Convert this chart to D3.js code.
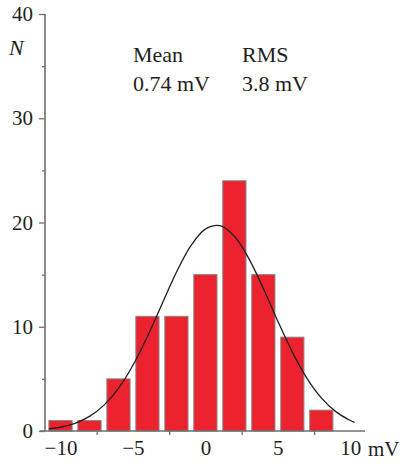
<!DOCTYPE html>
<html><head><meta charset="utf-8">
<script src="https://cdn.jsdelivr.net/npm/d3@7"></script>
<style>
html,body{margin:0;padding:0;background:#fff;}
svg text{font-family:"Liberation Serif","Times New Roman",serif;fill:#231f20;}
</style></head>
<body><svg id="c" width="403" height="464"></svg>
<script>
// data
const binCenters = [-10, -8, -6, -4, -2, 0, 2, 4, 6, 8];
const counts = [1, 1, 5, 11, 11, 15, 24, 15, 9, 2];
const curveX = [-10.8, -10, -9, -8, -7, -6, -5, -4, -3, -2, -1, 0, 1, 2, 3, 4, 5, 6, 7, 8, 9, 10, 10.3];
const curveY = [0.2, 0.36, 0.74, 1.4, 2.48, 4.09, 6.31, 9.07, 12.16, 15.22, 17.78, 19.37, 19.69, 18.68, 16.54, 13.66, 10.53, 7.57, 5.08, 3.18, 1.86, 1.01, 0.83];
const xLabelTicks = [-10, -5, 0, 5, 10];
const xMinorTicks = [-7.5, -2.5, 2.5, 7.5];
const yMajorTicks = [0, 10, 20, 30, 40];
const yMinorTicks = [5, 15, 25, 35];
const statLabels = ["Mean", "RMS"];
const statValues = ["0.74 mV", "3.8 mV"];

const svg = d3.select("#c");
const x = d3.scaleLinear().domain([-10, 10]).range([60.5, 350.3]);
const y = d3.scaleLinear().domain([0, 40]).range([431, 14]);
const axisColor = "#6f6f6f";
const halfBar = 0.8;

// bars
svg.append("g").selectAll("rect").data(binCenters).join("rect")
  .attr("x", (d) => x(d - halfBar))
  .attr("width", (d) => x(d + halfBar) - x(d - halfBar))
  .attr("y", (d, i) => y(counts[i]))
  .attr("height", (d, i) => y(0) - y(counts[i]))
  .attr("fill", "#ed222f")
  .attr("stroke", "#858585")
  .attr("stroke-width", 1);

// curve
const line = d3.line().x((d) => x(d[0])).y((d) => y(d[1])).curve(d3.curveCatmullRom);
svg.append("path").datum(curveX.map((v, i) => [v, curveY[i]]))
  .attr("d", line).attr("fill", "none").attr("stroke", "#1f1f1f").attr("stroke-width", 1.3);

// y axis
const gy = svg.append("g").attr("transform", `translate(${45},0)`)
  .call(d3.axisLeft(y).tickValues(yMajorTicks).tickSize(6).tickPadding(6).tickFormat(d3.format("d")));
gy.select(".domain").remove();
gy.selectAll("line").attr("stroke", axisColor).attr("stroke-width", 1.3);
gy.selectAll("text").attr("font-size", 21).attr("fill", "#231f20");
const gy2 = svg.append("g").attr("transform", `translate(${45},0)`)
  .call(d3.axisLeft(y).tickValues(yMinorTicks).tickSize(3).tickFormat(""));
gy2.select(".domain").remove();
gy2.selectAll("line").attr("stroke", axisColor).attr("stroke-width", 1.3);

svg.append("line").attr("x1", 45).attr("x2", 45).attr("y1", y(40)).attr("y2", y(0))
  .attr("stroke", axisColor).attr("stroke-width", 1.6);

// x axis
const gx = svg.append("g").attr("transform", `translate(0,${y(0)})`)
  .call(d3.axisBottom(x).tickValues(xMinorTicks).tickSize(4).tickFormat(""));
gx.select(".domain").remove();
gx.selectAll("line").attr("stroke", axisColor).attr("stroke-width", 1.3);
const gx2 = svg.append("g").attr("transform", `translate(0,${y(0)})`)
  .call(d3.axisBottom(x).tickValues(xLabelTicks).tickSize(0).tickPadding(9)
    .tickFormat((d) => d < 0 ? "\u2212" + Math.abs(d) : String(d)));
gx2.select(".domain").remove();
gx2.selectAll("text").attr("font-size", 21).attr("fill", "#231f20");
svg.append("line").attr("x1", 40).attr("x2", 365).attr("y1", y(0)).attr("y2", y(0))
  .attr("stroke", axisColor).attr("stroke-width", 1.6);

// unit labels
svg.append("text").attr("x", 368).attr("y", 456).attr("font-size", 21).text("mV");
svg.append("text").attr("x", 9).attr("y", 55).attr("font-size", 22).attr("font-style", "italic").text("N");

// stats
const statX = [133, 242];
statLabels.forEach((t, i) => {
  svg.append("text").attr("x", statX[i]).attr("y", 62).attr("font-size", 22).text(t);
  svg.append("text").attr("x", statX[i]).attr("y", 91).attr("font-size", 22).text(statValues[i]);
});
</script></body></html>
